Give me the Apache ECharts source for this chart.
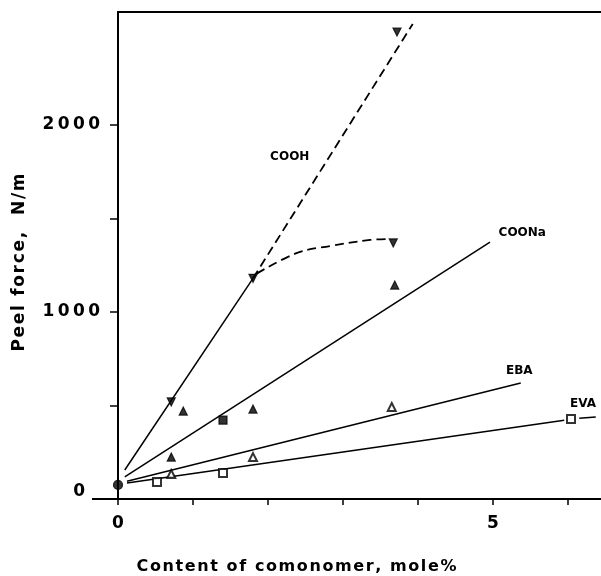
<!DOCTYPE html>
<html>
<head>
<meta charset="utf-8">
<script src="https://cdn.jsdelivr.net/npm/echarts@6/dist/echarts.min.js"></script>
<style>
html, body { margin: 0; padding: 0; background: #fff; }
#chart { width: 601px; height: 576px; }
</style>
</head>
<body>
<div id="chart"></div>
<script>
// axis ticks / labels
const xTicks = [0, 1, 2, 3, 4, 5, 6];
const xLabels = [0, 5];
const yTicks = [0, 500, 1000, 1500, 2000];
const yLabels = [1000, 2000];
const yZeroLabel = [0];

// measured points  [mole%, N/m]
const basePoint = [[0, 75]];
const coohPoints = [[0.71, 519], [1.8, 1180], [3.72, 2497], [3.67, 1369]];
const coonaPoints = [[0.71, 224], [0.87, 470], [1.8, 481], [3.69, 1144]];
const coonaSquare = [[1.4, 422]];
const ebaPoints = [[0.71, 134], [1.8, 224], [3.65, 492]];
const evaPoints = [[0.52, 91], [1.4, 139], [6.04, 428]];

// drawn lines
const coohFit = [[0.09, 155], [1.8, 1180]];
const coohExtrap = [[1.8, 1180], [3.93, 2540]];
const coohCurve = [[1.85, 1205], [2.39, 1316], [2.83, 1353], [3.36, 1385], [3.6, 1390]];
const coonaFit = [[0.09, 118], [4.96, 1374]];
const ebaFit = [[0.12, 95], [5.37, 620]];
const evaFit = [[0.12, 85], [5.95, 421], [6.04, '-'], [6.15, 432], [6.37, 438]];

const seriesNames = ['COOH', 'COONa', 'EBA', 'EVA'];

const FONT = 'DejaVu Sans';
const spaced = (s, sep) => String(s).split('').join(sep || '\u2009');

const chart = echarts.init(document.getElementById('chart'), null, { renderer: 'canvas' });

function line(data, dashed, extra) {
    return Object.assign({
        type: 'line',
        data: data,
        symbol: 'none',
        smooth: false,
        silent: true,
        lineStyle: { color: '#000', width: dashed ? 1.8 : 1.5, type: dashed ? [9, 5] : 'solid' },
        z: 2,
    }, extra || {});
}

function marks(data, symbol, size, rotate) {
    return {
        type: 'scatter',
        data: data,
        symbol: symbol,
        symbolSize: size,
        symbolRotate: rotate || 0,
        itemStyle: { color: '#000', borderColor: '#000', borderWidth: 1.2 },
        z: 5,
    };
}

function tag(name, coord) {
    return {
        symbol: 'rect',
        symbolSize: 1,
        itemStyle: { color: 'rgba(0,0,0,0)' },
        label: {
            show: true,
            formatter: name,
            color: '#000',
            fontFamily: FONT,
            fontWeight: 'bold',
            fontSize: 12,
            position: 'inside',
        },
        data: [{ name: name, coord: coord }],
    };
}

chart.setOption({
    animation: false,
    backgroundColor: '#fff',
    grid: { left: 118, right: 0, top: 12, bottom: 77, containLabel: false, outerBoundsMode: 'none' },
    xAxis: [{
        type: 'value',
        min: 0,
        max: 6.44,
        interval: 1,
        name: spaced('Content of comonomer, mole%', '\u200A'),
        nameLocation: 'middle',
        nameGap: 60,
        nameTextStyle: { color: '#000', fontFamily: FONT, fontWeight: 'bold', fontSize: 16, padding: [0, 126, 0, 0] },
        axisLine: { onZero: false, lineStyle: { color: '#000', width: 2 } },
        axisTick: { show: true, customValues: xTicks, length: 6, lineStyle: { color: '#000', width: 1.5 } },
        axisLabel: { customValues: xLabels, margin: 16, color: '#000', fontFamily: FONT, fontWeight: 'bold', fontSize: 17 },
        splitLine: { show: false },
    }, {
        type: 'value',
        position: 'top',
        min: 0,
        max: 6.44,
        axisLine: { onZero: false, lineStyle: { color: '#000', width: 2 } },
        axisTick: { show: false },
        axisLabel: { show: false },
        splitLine: { show: false },
    }],
    yAxis: [{
        type: 'value',
        min: 0,
        max: 2604,
        interval: 500,
        name: spaced('Peel force,  N/m', '\u200A'),
        nameLocation: 'middle',
        nameGap: 90,
        nameRotate: 90,
        nameTextStyle: { color: '#000', fontFamily: FONT, fontWeight: 'bold', fontSize: 17, padding: [0, 14, 0, 0] },
        axisLine: { onZero: false, lineStyle: { color: '#000', width: 2 } },
        axisTick: { show: true, customValues: yTicks, length: 8, lineStyle: { color: '#000', width: 1.5 } },
        axisLabel: { customValues: yLabels, margin: 18, color: '#000', fontFamily: FONT, fontWeight: 'bold', fontSize: 17, formatter: v => spaced(v) },
        splitLine: { show: false },
    }, {
        // baseline runs a little to the left of the frame, "0" sits beyond it
        type: 'value',
        position: 'left',
        min: 0,
        max: 2604,
        axisLine: { show: false },
        axisTick: { show: true, customValues: yZeroLabel, length: 26, lineStyle: { color: '#000', width: 2 } },
        axisLabel: { customValues: yZeroLabel, margin: 33, color: '#000', fontFamily: FONT, fontWeight: 'bold', fontSize: 17, verticalAlign: 'bottom', lineHeight: 14 },
        splitLine: { show: false },
    }],
    series: [
        line(coohFit, false),
        line(coohExtrap, true, { markPoint: tag(seriesNames[0], [2.29, 1829]) }),
        line(coohCurve, true, { smooth: 0.4 }),
        line(coonaFit, false, { markPoint: tag(seriesNames[1], [5.39, 1422]) }),
        line(ebaFit, false, { markPoint: tag(seriesNames[2], [5.35, 684]) }),
        line(evaFit, false, { connectNulls: false, markPoint: tag(seriesNames[3], [6.2, 508]) }),
        marks(basePoint, 'circle', 9),
        marks(coohPoints, 'triangle', 8, 180),
        marks(coonaPoints, 'triangle', 8),
        marks(coonaSquare, 'rect', 8),
        marks(ebaPoints, 'emptyTriangle', 8),
        marks(evaPoints, 'emptyRect', 8),
    ],
});

window.addEventListener('resize', () => chart.resize());
</script>
</body>
</html>
